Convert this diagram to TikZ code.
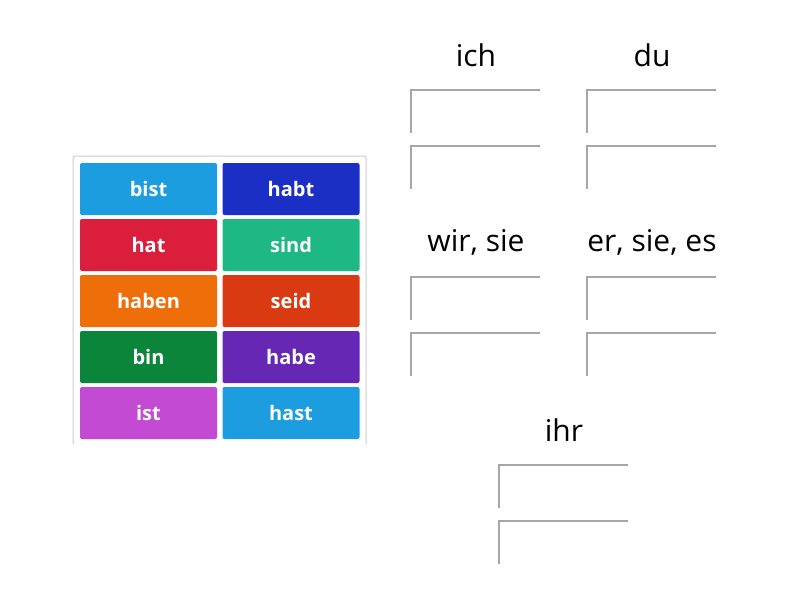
\documentclass[tikz,border=0pt]{standalone}
\usepackage{fontspec}
\setmainfont{Open Sans}
\definecolor{c1}{HTML}{1C9DE0}\definecolor{c2}{HTML}{1B2FC4}
\definecolor{c3}{HTML}{DB1E3B}\definecolor{c4}{HTML}{1DB884}
\definecolor{c5}{HTML}{EE6E0A}\definecolor{c6}{HTML}{D93A12}
\definecolor{c7}{HTML}{0A853A}\definecolor{c8}{HTML}{6628B4}
\definecolor{c9}{HTML}{C34AD2}\definecolor{c10}{HTML}{1C9DE0}
\tikzset{tile/.style={rounded corners=2pt,minimum width=137pt,minimum height=52pt,text=white,font=\bfseries\fontsize{20}{24}\selectfont,inner sep=0pt},
hdr/.style={font=\fontsize{30}{36}\selectfont,inner sep=0pt},
slot/.style={draw=gray!70,line width=1.2pt}}
\begin{document}
\begin{tikzpicture}[x=1pt,y=-1pt]
\useasboundingbox (0,0) rectangle (800,600);
\draw[draw=gray!40,line width=1pt,rounded corners=2pt] (73,444) -- (73,156) -- (366,156) -- (366,444);
\foreach \t/\c [count=\i from 0] in {bist/c1,hat/c3,haben/c5,bin/c7,ist/c9}
  \node[tile,fill=\c] (l\i) at (148.5,189+56*\i) {\t};
\foreach \t/\c [count=\i from 0] in {habt/c2,sind/c4,seid/c6,habe/c8,hast/c10}
  \node[tile,fill=\c] (r\i) at (291,189+56*\i) {\t};
\foreach \n/\t/\x/\y in {ich/ich/476/55,du/du/652/55,wir/{wir, sie}/476/242,er/{er, sie, es}/652/242,ihr/ihr/564/430}{
  \node[hdr] (h\n) at (\x,\y) {\t};
  \draw[slot] (\x-65,\y+78) -- (\x-65,\y+35) -- (\x+64,\y+35);
  \draw[slot] (\x-65,\y+134) -- (\x-65,\y+91) -- (\x+64,\y+91);
}
\end{tikzpicture}
\end{document}
